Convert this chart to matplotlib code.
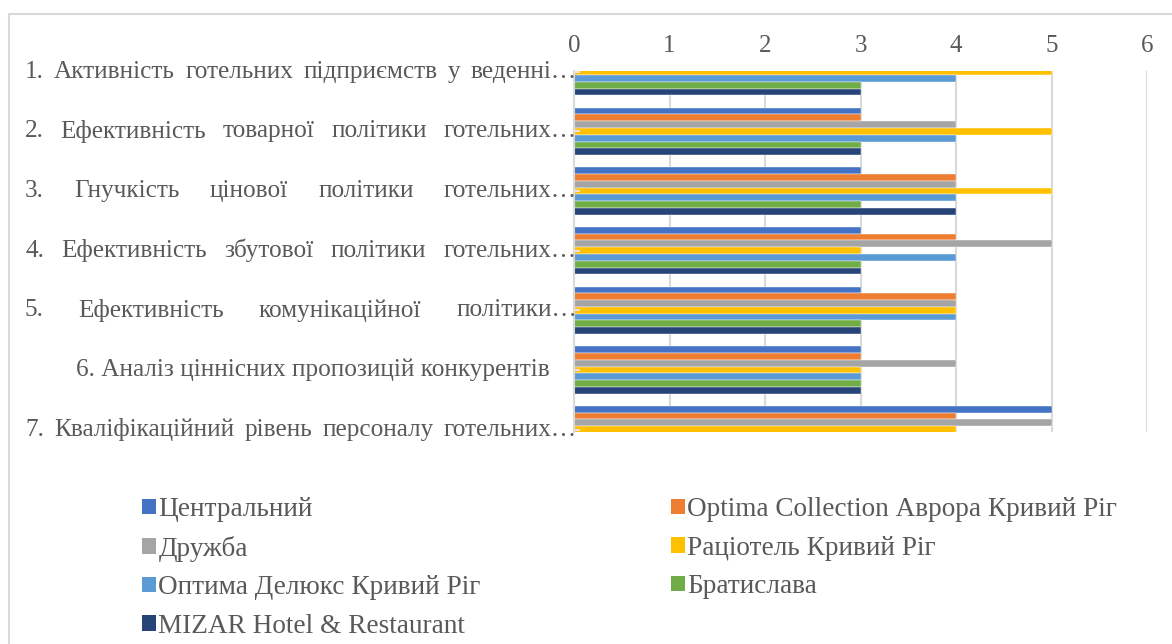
import matplotlib
matplotlib.use("Agg")
import matplotlib.pyplot as plt
import matplotlib.transforms as mtransforms
from matplotlib.patches import Patch, Rectangle
import numpy as np

# ---- data ----
categories = [
    "1. Активність готельних підприємств у веденні…",
    "2. Ефективність товарної політики готельних…",
    "3. Гнучкість цінової політики готельних…",
    "4. Ефективність збутової політики готельних…",
    "5. Ефективність комунікаційної політики…",
    "6. Аналіз ціннісних пропозицій конкурентів",
    "7. Кваліфікаційний рівень персоналу готельних…",
]
hotels = [
    "Центральний",
    "Optima Collection Аврора Кривий Ріг",
    "Дружба",
    "Раціотель Кривий Ріг",
    "Оптима Делюкс Кривий Ріг",
    "Братислава",
    "MIZAR Hotel & Restaurant",
]
centralnyi = [3, 3, 3, 3, 3, 3, 5]
optima_aurora = [3, 3, 4, 4, 4, 3, 4]
druzhba = [4, 4, 4, 5, 4, 4, 5]
ratiotel = [5, 5, 5, 3, 4, 3, 4]
optima_deluxe = [4, 4, 4, 4, 4, 3, 4]
bratyslava = [3, 3, 3, 3, 3, 3, 4]
mizar = [3, 3, 4, 3, 3, 3, 4]
series = [centralnyi, optima_aurora, druzhba, ratiotel, optima_deluxe, bratyslava, mizar]
x_ticks = [0, 1, 2, 3, 4, 5, 6]

colors = ["#4472C4", "#ED7D31", "#A5A5A5", "#FFC000", "#5B9BD5", "#70AD47", "#264478"]
TEXT = "#595959"
GRID = "#D9D9D9"
FONT = ["Liberation Serif", "DejaVu Serif"]
FS_CAT = 18.2
FS_TICK = 18.0
FS_LEG = 19.6

plt.rcParams["font.family"] = FONT

W, H = 1172, 644
fig = plt.figure(figsize=(W / 100, H / 100), dpi=100)

# chart area frame
fig.patches.append(Rectangle((9 / W, -0.1), 1.2, 1 - 14 / H + 0.1,
                             transform=fig.transFigure, fill=False,
                             edgecolor=GRID, linewidth=1.5, zorder=0))

ax_left, ax_right, ax_top, ax_bot = 574, 1147, 70.5, 432
pos = [ax_left / W, 1 - ax_bot / H, (ax_right - ax_left) / W, (ax_bot - ax_top) / H]
ax = fig.add_axes(pos)

n = len(series)
bar_h = 0.1137
ypos = np.arange(len(categories))
for i, (vals, col) in enumerate(zip(series, colors)):
    ax.barh(ypos + (i - (n - 1) / 2) * bar_h, vals, height=bar_h, color=col,
            edgecolor="white", linewidth=0.3, label=hotels[i], zorder=2)

ax.set_xlim(0, 6)
ax.set_ylim(6.04, -0.02)
ax.set_xticks(x_ticks)
ax.set_xticklabels([str(t) for t in x_ticks])
ax.xaxis.tick_top()
ax.tick_params(axis="x", length=0, pad=10, labelsize=FS_TICK, labelcolor=TEXT)
ax.set_axisbelow(True)
ax.grid(axis="x", color=GRID, linewidth=1.5)
for s in ["top", "right", "bottom"]:
    ax.spines[s].set_visible(False)
ax.spines["left"].set_color(GRID)
ax.spines["left"].set_linewidth(1.5)

# small category tick marks drawn above the bars
axt = fig.add_axes(pos, frameon=False, sharey=ax)
axt.set_xticks([])
axt.set_yticks(ypos)
axt.set_yticklabels([])
axt.tick_params(axis="y", direction="in", length=4, width=1.5, color="#E3E3E3")
axt.patch.set_alpha(0)
ax.tick_params(axis="y", length=0, labelleft=False)

# justified category labels
fig.canvas.draw()
renderer = fig.canvas.get_renderer()
trans = mtransforms.blended_transform_factory(mtransforms.IdentityTransform(), ax.transData)


def text_width(s):
    t = fig.text(0, 0, s, fontsize=FS_CAT, family=FONT)
    w = t.get_window_extent(renderer).width
    t.remove()
    return w


lab_left, lab_right = 25, 577
for k, lab in enumerate(categories):
    if k == 5:
        fig.text(313, k, lab, transform=trans, ha="center", va="center",
                 fontsize=FS_CAT, color=TEXT, family=FONT)
        continue
    words = lab.split(" ")
    widths = [text_width(w) for w in words]
    gap = (lab_right - lab_left - sum(widths)) / (len(words) - 1)
    x = lab_left
    for w, wd in zip(words, widths):
        fig.text(x, k, w, transform=trans, ha="left", va="center",
                 fontsize=FS_CAT, color=TEXT, family=FONT)
        x += wd + gap

# legend, filled row by row in two columns
handles = [Patch(facecolor=c, edgecolor="none") for c in colors]
col1 = [0, 2, 4, 6]
col2 = [1, 3, 5]
common = dict(frameon=False, fontsize=FS_LEG, handlelength=0.5, handleheight=0.5,
              handletextpad=0.1, labelspacing=0.5, borderpad=0, borderaxespad=0,
              labelcolor=TEXT, loc="upper left")
leg1 = fig.legend([handles[i] for i in col1], [hotels[i] for i in col1],
                  bbox_to_anchor=(142 / W, 1 - 497 / H), **common)
leg2 = fig.legend([handles[i] for i in col2], [hotels[i] for i in col2],
                  bbox_to_anchor=(671 / W, 1 - 497 / H), **common)

fig.savefig("out.png", dpi=100, facecolor="white")
